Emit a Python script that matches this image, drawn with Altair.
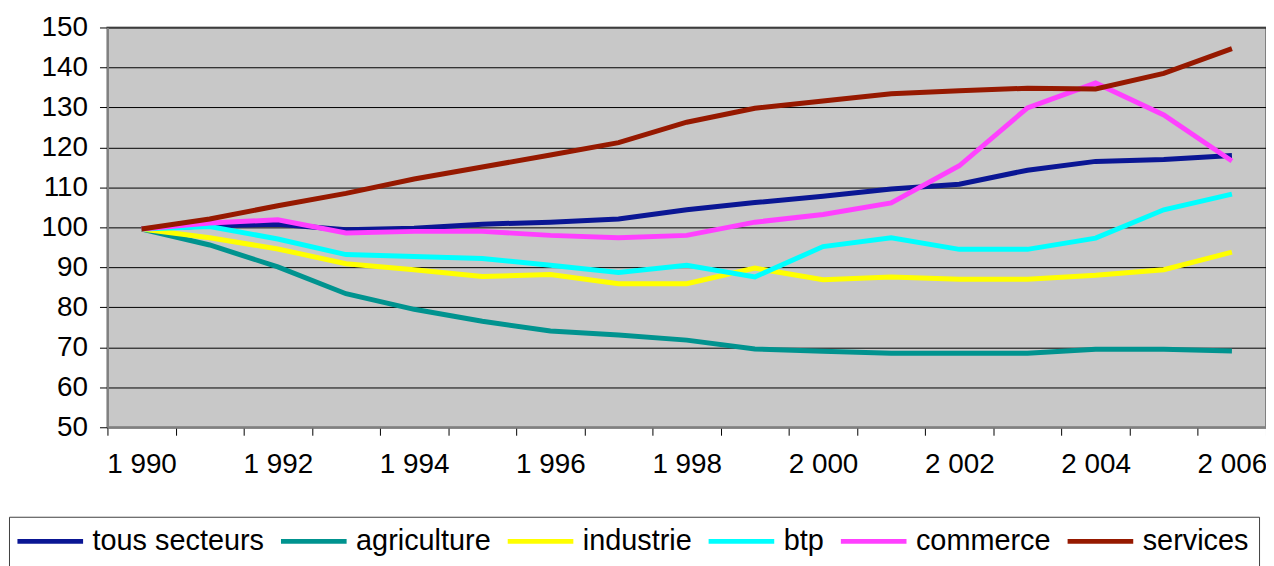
import altair as alt
import pandas as pd

years = list(range(1990, 2007))
series = ["tous secteurs", "agriculture", "industrie", "btp", "commerce", "services"]
colors = ["#0A1694", "#00938F", "#FFFF00", "#00FFFF", "#FF40FF", "#961900"]

tous_secteurs = [99.6, 100.4, 100.8, 99.4, 99.8, 100.8, 101.3, 102.1, 104.4, 106.2, 107.8, 109.6, 110.8, 114.3, 116.5, 117.0, 118.0]
agriculture = [99.6, 95.6, 90.1, 83.4, 79.5, 76.5, 74.1, 73.1, 71.8, 69.6, 69.0, 68.5, 68.5, 68.5, 69.5, 69.5, 69.1]
industrie = [99.6, 97.4, 94.6, 90.9, 89.4, 87.7, 88.2, 85.9, 85.9, 89.8, 86.9, 87.6, 87.0, 87.0, 88.0, 89.4, 93.8]
btp = [99.6, 100.2, 97.1, 93.2, 92.7, 92.2, 90.5, 88.7, 90.5, 87.6, 95.2, 97.4, 94.5, 94.5, 97.3, 104.4, 108.3]
commerce = [99.6, 101.1, 101.9, 98.6, 99.0, 99.0, 98.0, 97.4, 98.0, 101.3, 103.2, 106.1, 115.4, 129.9, 136.1, 128.1, 116.6]
services = [99.6, 102.1, 105.4, 108.5, 112.1, 115.1, 118.1, 121.2, 126.3, 129.8, 131.6, 133.4, 134.2, 134.8, 134.6, 138.5, 144.7]

y_ticks = list(range(50, 151, 10))

values = [tous_secteurs, agriculture, industrie, btp, commerce, services]
rows = []
for name, vals in zip(series, values):
    for yr, v in zip(years, vals):
        rows.append({"annee": yr, "indice": v, "secteur": name})
df = pd.DataFrame(rows)

FONT = "Liberation Sans"

chart = (
    alt.Chart(df)
    .mark_line(strokeWidth=5)
    .encode(
        x=alt.X(
            "annee:O",
            bandPosition=0.5,
            scale=alt.Scale(type="band", paddingInner=0, paddingOuter=0),
            axis=alt.Axis(
                title=None,
                labelAngle=0,
                labelExpr="datum.value % 2 == 0 ? substring(datum.label, 0, 1) + ' ' + substring(datum.label, 1) : ''",
                tickBand="extent",
                labelFontSize=28,
                labelFont=FONT,
                labelColor="black",
                tickColor="black",
                tickSize=8,
                labelPadding=15,
                domainColor="#808080",
                domainWidth=2,
                grid=False,
            ),
        ),
        y=alt.Y(
            "indice:Q",
            scale=alt.Scale(domain=[50, 150], nice=False, zero=False),
            axis=alt.Axis(
                title=None,
                values=y_ticks,
                labelFontSize=28,
                labelFont=FONT,
                labelColor="black",
                tickColor="black",
                tickSize=8,
                labelPadding=12,
                domainColor="#808080",
                domainWidth=2,
                grid=True,
                gridColor="black",
                gridWidth=1,
                gridOpacity=1,
            ),
        ),
        color=alt.Color(
            "secteur:N",
            sort=series,
            scale=alt.Scale(domain=series, range=colors),
            legend=alt.Legend(
                title=None,
                orient="none",
                legendX=-99,
                legendY=492,
                direction="horizontal",
                columns=6,
                symbolType="M-1.6,0H5",
                symbolSize=400,
                symbolStrokeWidth=5,
                labelFontSize=29,
                labelFont=FONT,
                labelColor="black",
                labelOffset=45,
                columnPadding=6,
                padding=10,
                strokeColor="#404040",
                fillColor="white",
                labelLimit=400,
            ),
        ),
    )
    .properties(width=1165, height=402)
)

chart = chart.configure_view(
    fill="#C8C8C8", stroke="#808080", strokeWidth=2
).properties(
    autosize=alt.AutoSizeParams(type="none"),
    padding={"left": 100, "top": 18, "right": 0, "bottom": 150},
    background="white",
)

chart.save("out.html", embed_options={"renderer": "svg", "actions": False})
